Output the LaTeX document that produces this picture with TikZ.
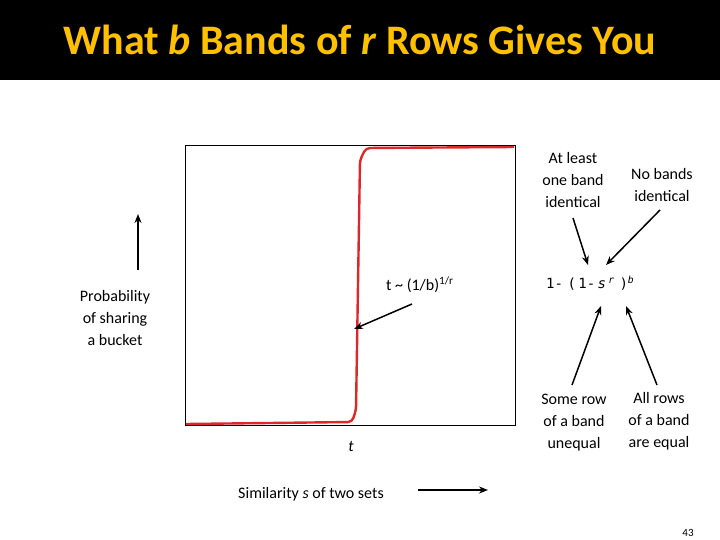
\documentclass[tikz,border=0pt]{standalone}
\usepackage{fontspec}
\usetikzlibrary{arrows.meta}
\setmainfont{Carlito}
\newfontfamily\monof{DejaVu Sans Mono}
\definecolor{titley}{RGB}{255,192,0}
\definecolor{curvered}{RGB}{220,40,40}
\begin{document}
\begin{tikzpicture}[x=1pt,y=-1pt,
  lbl/.style={align=center,font=\fontsize{16}{22}\selectfont,inner sep=0pt},
  arr/.style={-{Stealth[length=9pt,width=7pt]},line width=1.5pt}]
\useasboundingbox (0,0) rectangle (720,540);
\fill[black] (0,0) rectangle (720,80);
\node[text=titley,font=\fontsize{42}{46}\selectfont\bfseries] (title) at (360,40) {What \textit{b} Bands of \textit{r} Rows Gives You};
\node[draw=black,line width=0.8pt,minimum width=330pt,minimum height=280pt,inner sep=0pt] (box) at (350,285) {};
\draw[curvered,line width=2.4pt,rounded corners=4pt] (186,424) -- (352,422) -- (356,410) -- (360,160) -- (366,148) -- (514,147);
\coordinate (ya) at (138,270); \coordinate (yb) at (138,214);
\draw[arr] (ya) -- (yb);
\node[lbl] (ylab) at (115,318) {Probability\\of sharing\\a bucket};
\node[lbl] (xlab) at (311,494) {Similarity \textit{s} of two sets};
\coordinate (xa) at (418,490); \coordinate (xb) at (488,490);
\draw[arr] (xa) -- (xb);
\node[lbl,anchor=west] (tl) at (386,285) {t \textasciitilde{} (1/b)\textsuperscript{1/r}};
\coordinate (ta) at (412,304); \coordinate (tb) at (354,329);
\draw[arr] (ta) -- (tb);
\node[lbl] (tt) at (351,446) {\textit{t}};
\node[anchor=west,inner sep=0pt,font=\monof\fontsize{14}{16}\selectfont] (f) at (546,283) {1-\,\,(\,1-\,\textit{s}\,\textsuperscript{\textit{r}}\,\,)\textsuperscript{\textit{b}}};
\node[lbl] (a1) at (573,180) {At least\\one band\\identical};
\node[lbl] (a2) at (662,185) {No bands\\identical};
\node[lbl] (a3) at (574,423) {Some row\\of a band\\unequal};
\node[lbl] (a4) at (659,421) {All rows\\of a band\\are equal};
\draw[arr] (573,218) -- (588,265);
\draw[arr] (660,210) -- (606,265);
\draw[arr] (572,385) -- (601,306);
\draw[arr] (657,385) -- (626,306);
\node[font=\fontsize{11}{12}\selectfont] (pg) at (688,533) {43};
\end{tikzpicture}
\end{document}
